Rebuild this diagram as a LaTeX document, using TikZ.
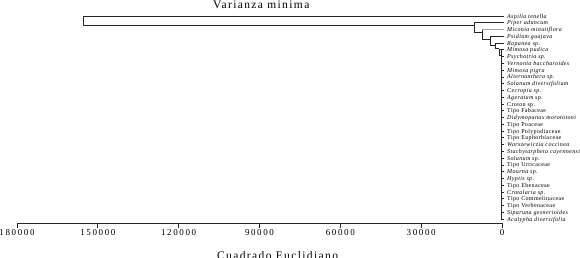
\documentclass[tikz,border=0pt]{standalone}
\usepackage{fontspec}
\setmainfont{Liberation Serif}
\newfontfamily\leaffont[LetterSpace=6]{Liberation Serif}
\newfontfamily\tickfont[LetterSpace=18]{Liberation Serif}
\newfontfamily\titlefont[LetterSpace=12]{Liberation Serif}
\begin{document}
\begin{tikzpicture}[x=1pt,y=-1pt,
  branch/.style={line width=0.8pt,draw=black!85},
  lightbranch/.style={line width=0.8pt,draw=black!35},
  leaflab/.style={anchor=base west,inner sep=0pt,font=\leaffont\fontsize{6}{6}\selectfont\itshape},
  leafup/.style={anchor=base west,inner sep=0pt,font=\leaffont\fontsize{6}{6}\selectfont},
  ticklab/.style={anchor=base,inner sep=0pt,font=\tickfont\fontsize{9}{9}\selectfont},
  axtitle/.style={anchor=base west,inner sep=0pt,font=\titlefont\fontsize{11.5}{11.5}\selectfont}]
\useasboundingbox (0,0) rectangle (580,257);
% leaves
\def\ystep{6.77}
\foreach \i/\t/\s in {1/Aspilia tenella/leaflab,2/Piper aduncum/leaflab,3/Miconia minutiflora/leaflab,4/Psidium guajava/leaflab,5/Rapanea sp./leaflab,6/Mimosa pudica/leaflab,7/Psychotria sp./leaflab,8/Vernonia baccharoides/leaflab,9/Mimosa pigra/leaflab,10/Alternanthera sp./leaflab,11/Solanum diversifolium/leaflab,12/Cecropia sp./leaflab,13/Ageratum sp./leaflab,14/Croton sp./leafup,15/Tipo Fabaceae/leafup,16/Didymopanax morototoni/leaflab,17/Tipo Poaceae/leafup,18/Tipo Polypodiaceae/leafup,19/Tipo Euphorbiaceae/leafup,20/Warszewiczia coccinea/leaflab,21/Stachytarpheta cayennensis/leaflab,22/Solanum sp./leaflab,23/Tipo Urticaceae/leafup,24/Mourna sp./leaflab,25/Hyptis sp./leaflab,26/Tipo Ebenaceae/leafup,27/Crotalaria sp./leaflab,28/Tipo Commelinaceae/leafup,29/Tipo Verbenaceae/leafup,30/Siparuna gesnerioides/leaflab,31/Acalypha diversifolia/leaflab}{
  \pgfmathsetmacro{\yy}{16+(\i-1)*\ystep}
  \coordinate (L\i) at (504,\yy);
  \node[\s] (T\i) at (507,\yy+2) {\t};
}
% cluster joints
\coordinate (R) at (83,16);
\coordinate (Rb) at (83,25.5);
\coordinate (C2) at (474,25.5);
\coordinate (C2b) at (474,32.5);
\coordinate (C3) at (482,32.5);
\coordinate (C3b) at (482,39);
\coordinate (C4) at (490,39);
\coordinate (C4b) at (490,45.5);
\coordinate (C5) at (495,45.5);
\coordinate (C5b) at (495,48.5);
\coordinate (C6) at (499,48.5);
\coordinate (C6b) at (499,55);
\coordinate (C7) at (501,55);
% root
\draw[branch] (L1) -- (R) -- (Rb) -- (C2);
\draw[branch] (L2) -- (C2 |- L2) -- (C2b) -- (C3);
\draw[lightbranch] (L3) -- (C3 |- L3);
\draw[branch] (C3 |- L3) -- (C3b) -- (C4);
\draw[branch] (L4) -- (C4 |- L4) -- (C4b) -- (C5);
\draw[branch] (L5) -- (C5 |- L5) -- (C5b) -- (C6);
\draw[branch] (C6 |- L6) -- (C6b) -- (C7);
\draw[branch] (C6 |- L6) -- (C7 |- L6);
\draw[branch] (C7 |- L6) -- (C7 |- L31);
\foreach \i in {6,...,31}{\draw[branch] (C7 |- L\i) -- (L\i);}
% axis
\coordinate (A0) at (502,223);
\coordinate (A1) at (17,223);
\draw[branch] (A1) -- (A0);
\foreach \xx/\lab in {502/0,421.17/30000,340.33/60000,259.5/90000,178.67/120000,97.83/150000,17/180000}{
  \draw[branch] (\xx,223) -- (\xx,227.5);
  \node[ticklab] at (\xx,235) {\lab};
}
\node[axtitle] (title) at (213,8.5) {Varianza minima};
\node[axtitle] (xlab) at (217,259) {Cuadrado Euclidiano};
\end{tikzpicture}
\end{document}
